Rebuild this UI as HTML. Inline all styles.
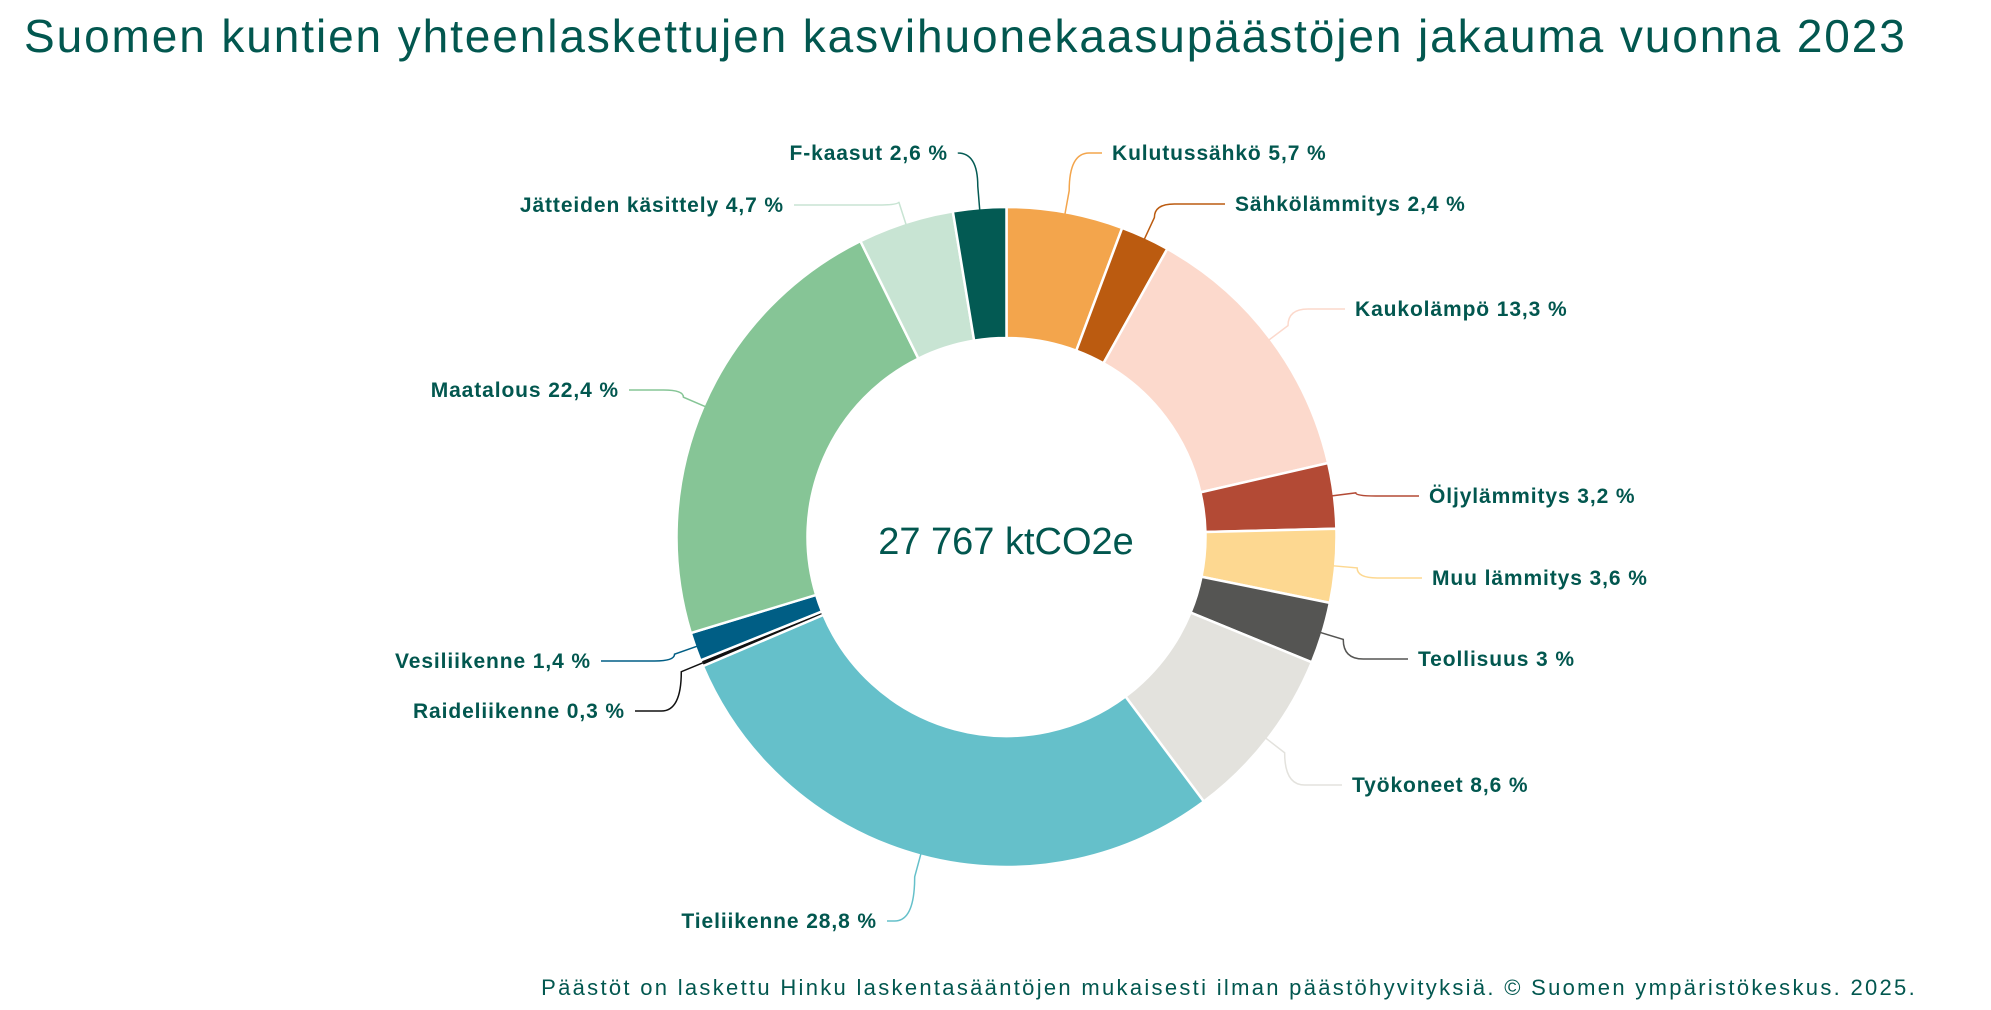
<!DOCTYPE html>
<html><head><meta charset="utf-8"><style>
html,body{margin:0;padding:0;background:#fff;width:1991px;height:1010px;overflow:hidden}
svg{display:block}
.l{font-family:"Liberation Sans",sans-serif;font-weight:bold;font-size:21px;letter-spacing:0.9px;fill:#02574f}
</style></head><body>
<svg width="1991" height="1010" viewBox="0 0 1991 1010">
<text x="24" y="52" font-family="Liberation Sans, sans-serif" font-size="46" letter-spacing="1.9" fill="#02574f">Suomen kuntien yhteenlaskettujen kasvihuonekaasupäästöjen jakauma vuonna 2023</text>
<g id="pie"></g>
<g id="lines" fill="none" stroke-width="1.5"></g>
<text x="1006" y="554" text-anchor="middle" font-family="Liberation Sans, sans-serif" font-size="38" fill="#02574f">27 767 ktCO2e</text>
<g class="l">
<text x="948" y="160" text-anchor="end">F-kaasut 2,6 %</text>
<text x="784" y="212" text-anchor="end">Jätteiden käsittely 4,7 %</text>
<text x="619" y="397" text-anchor="end">Maatalous 22,4 %</text>
<text x="591" y="668" text-anchor="end">Vesiliikenne 1,4 %</text>
<text x="625" y="718" text-anchor="end">Raideliikenne 0,3 %</text>
<text x="877" y="928" text-anchor="end">Tieliikenne 28,8 %</text>
<text x="1112" y="160">Kulutussähkö 5,7 %</text>
<text x="1235" y="211">Sähkölämmitys 2,4 %</text>
<text x="1355" y="316">Kaukolämpö 13,3 %</text>
<text x="1429" y="503">Öljylämmitys 3,2 %</text>
<text x="1432" y="585">Muu lämmitys 3,6 %</text>
<text x="1418" y="666">Teollisuus 3 %</text>
<text x="1352" y="792">Työkoneet 8,6 %</text>
</g>
<text x="1917" y="995" text-anchor="end" font-family="Liberation Sans, sans-serif" font-size="22" letter-spacing="2.3" fill="#02574f">Päästöt on laskettu Hinku laskentasääntöjen mukaisesti ilman päästöhyvityksiä. © Suomen ympäristökeskus. 2025.</text>
</svg>
<script>
var cx=1006.5,cy=537,R=330,r=199;
var d=[[5.7,"#f3a54c",1102,153],[2.4,"#bb5b10",1225,204],[13.3,"#fcd9cc",1345,309],[3.2,"#b34a35",1419,496],[3.6,"#fdd891",1422,578],[3,"#555553",1408,659],[8.6,"#e3e2dd",1342,785],[28.8,"#65c0ca",887,921],[0.3,"#111111",635,711],[1.4,"#005e85",601,661],[22.4,"#86c596",629,390],[4.7,"#c8e4d3",794,205],[2.6,"#035a53",958,153]];
var a=0,P="",L="";
function pt(rad,ang){return [cx+rad*Math.sin(ang),cy-rad*Math.cos(ang)];}
d.forEach(function(s){
 var a0=a/100*2*Math.PI,a1=(a+s[0])/100*2*Math.PI;a+=s[0];
 var lg=(a1-a0)>Math.PI?1:0;
 var p1=pt(R,a0),p2=pt(R,a1),p3=pt(r,a1),p4=pt(r,a0);
 P+='<path d="M'+p1+' A'+R+' '+R+' 0 '+lg+' 1 '+p2+' L'+p3+' A'+r+' '+r+' 0 '+lg+' 0 '+p4+' Z" fill="'+s[1]+'" stroke="#fff" stroke-width="2.5"/>';
 var m=(a0+a1)/2,q1=pt(R-2,m),q2=pt(R+22,m);
 L+='<path d="M'+q1+' L'+q2+' Q'+q2[0]+','+s[3]+' '+(q2[0]+(s[2]>q2[0]?20:-20))+','+s[3]+' L'+s[2]+','+s[3]+'" stroke="'+s[1]+'"/>';
});
document.getElementById('pie').innerHTML=P;
document.getElementById('lines').innerHTML=L;
</script>
</body></html>
